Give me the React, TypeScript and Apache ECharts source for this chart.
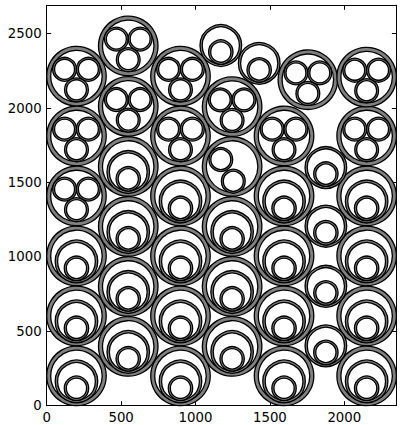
import React, { useEffect, useRef } from "react";
import * as echarts from "echarts";

// Large conduits (outer radius 200): centre x, centre y, content kind
const pipeX = [
  200, 200, 200, 200, 200, 200,
  548, 548, 548, 548, 548, 548,
  899, 899, 899, 899, 899, 899,
  1246, 1246, 1246, 1246, 1246,
  1595, 1595, 1595, 1595, 1595,
  1755,
  2150, 2150, 2150, 2150, 2150, 2150,
];
const pipeY = [
  200, 603, 1006, 1409, 1812, 2214,
  398, 801, 1204, 1607, 2011, 2417,
  200, 603, 1006, 1409, 1812, 2214,
  398, 801, 1204, 1607, 2009,
  200, 603, 1006, 1409, 1812,
  2190,
  200, 603, 1006, 1409, 1812, 2208,
];
const pipeKind = [
  "nested", "nested", "nested", "three", "three", "three",
  "nested", "nested", "nested", "nested", "three", "three",
  "nested", "nested", "nested", "nested", "three", "three",
  "nested", "nested", "nested", "two", "three",
  "nested", "nested", "nested", "nested", "three",
  "three",
  "nested", "nested", "nested", "nested", "three", "three",
];

// Free-standing medium cables (outer radius 140)
const singleX = [1170, 1428, 1876, 1876, 1876, 1876];
const singleY = [2420, 2300, 402, 802, 1206, 1600];

const X_MAX = 2350;
const Y_MAX = 2690;
const TICK_STEP = 500;

// geometry templates: [dx, dy, rOuter, rInner]
const PIPE: number[] = [0, 0, 200, 173];
const TEMPLATES: Record<string, number[][]> = {
  nested: [
    [0, -37, 143, 127],
    [0, -83, 82, 68],
  ],
  three: [
    [-80, 46, 80, 67],
    [80, 46, 80, 67],
    [0, -92, 80, 67],
  ],
  two: [
    [-76, 47, 80, 67],
    [8, -99, 80, 67],
  ],
  single: [
    [0, 0, 140, 125],
    [0, -44, 82, 68],
  ],
};

function buildRings(): number[][] {
  const rings: number[][] = [];
  pipeX.forEach((x, i) => {
    const y = pipeY[i];
    rings.push([x + PIPE[0], y + PIPE[1], PIPE[2], PIPE[3]]);
    TEMPLATES[pipeKind[i]].forEach((t) => rings.push([x + t[0], y + t[1], t[2], t[3]]));
  });
  singleX.forEach((x, i) => {
    const y = singleY[i];
    TEMPLATES.single.forEach((t) => rings.push([x + t[0], y + t[1], t[2], t[3]]));
  });
  return rings;
}

export default function App() {
  const ref = useRef<HTMLDivElement>(null);
  useEffect(() => {
    if (!ref.current) return;
    const chart = echarts.init(ref.current, undefined, { renderer: "svg" });
    const font = "DejaVu Sans";
    const fmt = (v: number) => (v % TICK_STEP === 0 ? String(v) : "");
    const baseAxis = {
      type: "value" as const,
      interval: TICK_STEP,
      splitLine: { show: false },
      axisLine: { show: true, onZero: false, lineStyle: { color: "#000", width: 1 } },
      axisTick: { show: true, inside: true, length: 4.5, lineStyle: { color: "#000", width: 1 } },
    };
    chart.setOption({
      animation: false,
      backgroundColor: "#fff",
      grid: { left: 46.7, top: 5.3, right: 6.6, bottom: 19.3, containLabel: false },
      xAxis: [
        {
          ...baseAxis,
          min: 0,
          max: X_MAX,
          position: "bottom",
          axisLabel: { color: "#000", fontFamily: font, fontSize: 13.3, margin: 5, formatter: fmt },
        },
        { ...baseAxis, min: 0, max: X_MAX, position: "top", axisLabel: { show: false } },
      ],
      yAxis: [
        {
          ...baseAxis,
          min: 0,
          max: Y_MAX,
          position: "left",
          axisLabel: { color: "#000", fontFamily: font, fontSize: 13.3, margin: 5, formatter: fmt },
        },
        { ...baseAxis, min: 0, max: Y_MAX, position: "right", axisLabel: { show: false } },
      ],
      series: [
        {
          type: "custom",
          xAxisIndex: 0,
          yAxisIndex: 0,
          data: buildRings(),
          encode: { x: 0, y: 1 },
          renderItem: (params: any, api: any) => {
            const c = api.coord([api.value(0), api.value(1)]);
            const r = api.size([api.value(2), 0])[0];
            const r0 = api.size([api.value(3), 0])[0];
            return {
              type: "ring",
              shape: { cx: c[0], cy: c[1], r, r0 },
              style: { fill: "#808080", stroke: "#000", lineWidth: 1.3 },
            };
          },
        },
      ],
    });
    return () => chart.dispose();
  }, []);
  return (
    <div
      ref={ref}
      style={{ position: "fixed", left: 0, top: 0, width: 403, height: 425 }}
    />
  );
}
